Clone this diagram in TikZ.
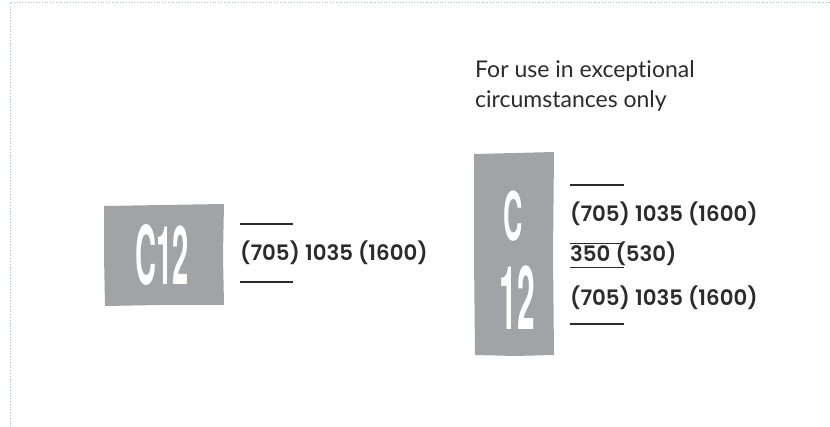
\documentclass[tikz,border=0pt]{standalone}
\usepackage{fontspec}
\setmainfont{Lato}[Ligatures={NoCommon,NoRare,NoContextual}]
\newfontfamily\labfont{Poppins SemiBold}
\newfontfamily\condfont{TeX Gyre Heros}
\definecolor{boxgray}{HTML}{A1A4A7}
\definecolor{ink}{HTML}{2B2B2B}
\definecolor{frame}{HTML}{A9BDB8}
\tikzset{
  plate/.style={fill=boxgray, draw=none},
  bigcode/.style={text=white, inner sep=0pt, font=\condfont\bfseries},
  lab/.style={anchor=base west, inner sep=0pt, text=ink, font=\labfont\fontsize{21.3}{24}\selectfont},
  note/.style={anchor=base west, inner sep=0pt, text=ink, align=left, font=\fontsize{23}{30}\selectfont},
  rule/.style={draw=ink, line width=1.2pt},
  border/.style={draw=frame, line width=0.8pt, dotted}
}
\begin{document}
\begin{tikzpicture}[x=1pt,y=-1pt]
\useasboundingbox (0,0) rectangle (830,427);
% frame
\coordinate (fa) at (10,427);
\coordinate (fb) at (10,2.5);
\coordinate (fc) at (830,2.5);
\draw[border] (fa) -- (fb) -- (fc);

% left plate
\path[plate] (104,206) -- (163,205) -- (224,204) -- (223,255) -- (224,305) -- (160,305) -- (105,306) -- (104,255) -- cycle;
\node[bigcode] (c12) at (162,255) {\fontsize{81}{81}\selectfont\scalebox{0.36}[1]{C12}};
\coordinate (l1a) at (240,224); \coordinate (l1b) at (293,224);
\coordinate (l2a) at (240,282); \coordinate (l2b) at (293,282);
\draw[rule] (l1a) -- (l1b);
\draw[rule] (l2a) -- (l2b);
\node[lab] (t1) at (240,261) {(705) 1035 (1600)};

% note
\node[note] (note) at (475,108) {For use in exceptional\\circumstances only};

% right plate
\path[plate] (474,154) -- (515,153) -- (554,152) -- (553,255) -- (554,355) -- (515,356) -- (475,355) -- (474,255) -- cycle;
\node[bigcode] (cc) at (513,216) {\fontsize{67}{67}\selectfont\scalebox{0.40}[1]{C}};
\node[bigcode] (c2) at (517,297.5) {\fontsize{88}{88}\selectfont\scalebox{0.36}[1]{12}};
\coordinate (r1a) at (570,185); \coordinate (r1b) at (624,185);
\coordinate (r2a) at (570,324); \coordinate (r2b) at (624,324);
\draw[rule] (r1a) -- (r1b);
\draw[rule] (r2a) -- (r2b);
\node[lab] (t2) at (570,222) {(705) 1035 (1600)};
\node[lab] (t3) at (570,262) {350 (530)};
\node[lab] (t4) at (570,306) {(705) 1035 (1600)};
\coordinate (oa) at (570,243); \coordinate (ob) at (623,243);
\coordinate (ua) at (570,267); \coordinate (ub) at (624,267);
\draw[rule, line width=0.9pt] (oa) -- (ob);
\draw[rule, line width=0.9pt] (ua) -- (ub);
\end{tikzpicture}
\end{document}
